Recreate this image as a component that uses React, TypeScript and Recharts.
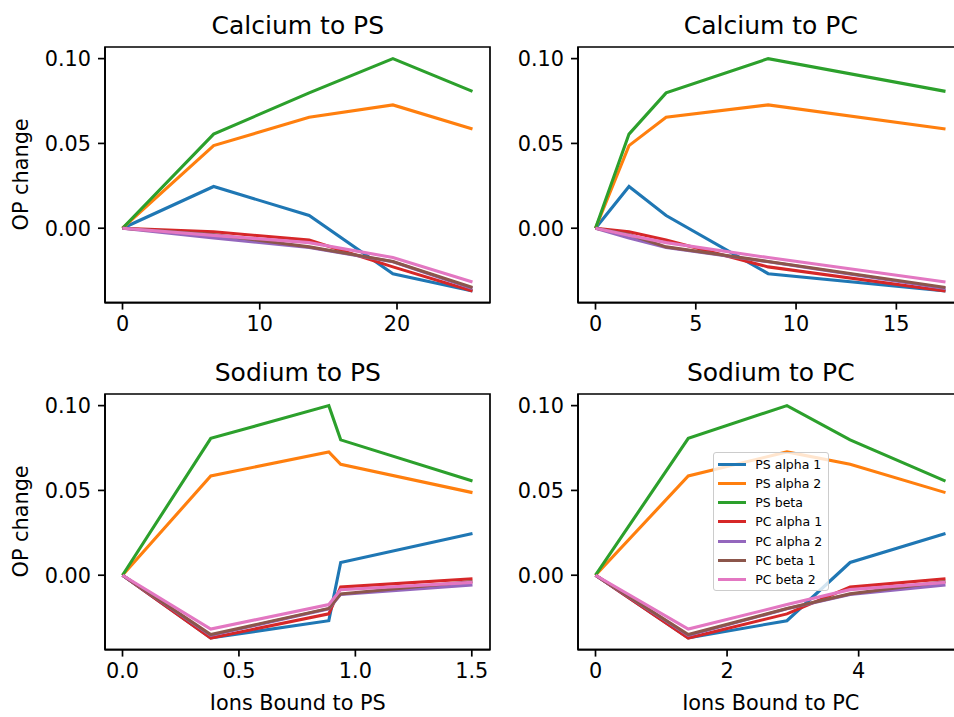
import React from 'react';
import { LineChart, Line, XAxis, YAxis, Legend, ReferenceArea } from 'recharts';

const seriesNames = ['PS alpha 1', 'PS alpha 2', 'PS beta', 'PC alpha 1', 'PC alpha 2', 'PC beta 1', 'PC beta 2'];
const seriesColors = ['#1f77b4', '#ff7f0e', '#2ca02c', '#d62728', '#9467bd', '#8c564b', '#e377c2'];

// ions bound (x) for each panel
const caToPS = [0, 6.64, 13.6, 19.7, 25.5];
const caToPC = [0, 1.67, 3.52, 8.61, 17.45];
const naToPS = [0, 0.379, 0.886, 0.937, 1.503];
const naToPC = [0, 1.41, 2.91, 3.87, 5.32];

// OP change, calcium runs
const caPsAlpha1 = [0, 0.0246, 0.0075, -0.0268, -0.0370];
const caPsAlpha2 = [0, 0.0487, 0.0654, 0.0727, 0.0585];
const caPsBeta = [0, 0.0555, 0.0798, 0.1000, 0.0807];
const caPcAlpha1 = [0, -0.0021, -0.0070, -0.0228, -0.0370];
const caPcAlpha2 = [0, -0.0057, -0.0113, -0.0198, -0.0355];
const caPcBeta1 = [0, -0.0037, -0.0110, -0.0196, -0.0350];
const caPcBeta2 = [0, -0.0042, -0.0085, -0.0173, -0.0317];

// OP change, sodium runs
const naPsAlpha1 = [0, -0.0370, -0.0268, 0.0075, 0.0246];
const naPsAlpha2 = [0, 0.0585, 0.0727, 0.0654, 0.0487];
const naPsBeta = [0, 0.0807, 0.1000, 0.0798, 0.0555];
const naPcAlpha1 = [0, -0.0370, -0.0228, -0.0070, -0.0021];
const naPcAlpha2 = [0, -0.0355, -0.0198, -0.0113, -0.0057];
const naPcBeta1 = [0, -0.0350, -0.0196, -0.0110, -0.0037];
const naPcBeta2 = [0, -0.0317, -0.0173, -0.0085, -0.0042];

const calciumSeries = [caPsAlpha1, caPsAlpha2, caPsBeta, caPcAlpha1, caPcAlpha2, caPcBeta1, caPcBeta2];
const sodiumSeries = [naPsAlpha1, naPsAlpha2, naPsBeta, naPcAlpha1, naPcAlpha2, naPcBeta1, naPcBeta2];

const yTicks = [0, 0.05, 0.1];

const FONT = '"DejaVu Sans", sans-serif';
const TICK_FS = 20.8;
const AX_W = 385;
const AX_H = 255.6;
const Y_AXIS_W = 70;
const X_AXIS_H = 40;
const SPINE = 1.7;

const pad = (lo: number, hi: number): [number, number] => {
  const r = hi - lo;
  return [lo - 0.05 * r, hi + 0.05 * r];
};

const allY = [...calciumSeries, ...sodiumSeries].flat();
const yDomain = pad(Math.min(...allY), Math.max(...allY));

const LegendBox = () => (
  <div style={{
    border: '1px solid #cccccc', borderRadius: 3, background: 'rgba(255,255,255,0.8)',
    padding: '1.5px 6px 1.5px 0', fontFamily: FONT, fontSize: 12.5, color: '#000',
  }}>
    {seriesNames.map((name, i) => (
      <div key={name} style={{ display: 'flex', alignItems: 'center', height: 19.17 }}>
        <div style={{ marginLeft: 4, width: 28.3, height: 3, background: seriesColors[i] }} />
        <span style={{ marginLeft: 9.3, whiteSpace: 'nowrap' }}>{name}</span>
      </div>
    ))}
  </div>
);

type PanelProps = {
  xs: number[];
  ys: number[][];
  xTicks: number[];
  xFmt: (v: number) => string;
  left: number;
  top: number;
  legend?: boolean;
};

const Panel = ({ xs, ys, xTicks, xFmt, left, top, legend }: PanelProps) => {
  const data = xs.map((x, i) => {
    const row: any = { x };
    ys.forEach((s, k) => { row['s' + k] = s[i]; });
    return row;
  });
  const xDomain = pad(Math.min(...xs), Math.max(...xs));
  const tickStyle = { fontSize: TICK_FS, fill: '#000', fontFamily: FONT };
  const line = { stroke: '#000', strokeWidth: SPINE };
  return (
    <div style={{ position: 'absolute', left: left - Y_AXIS_W, top: top - 5 }}>
      <LineChart width={Y_AXIS_W + AX_W + 5} height={5 + AX_H + X_AXIS_H} data={data}
        margin={{ top: 5, right: 5, left: 0, bottom: 0 }}>
        <XAxis dataKey="x" type="number" domain={xDomain} allowDataOverflow ticks={xTicks}
          tickFormatter={xFmt} height={X_AXIS_H} tick={tickStyle} tickSize={7} tickMargin={7}
          axisLine={line} tickLine={line} interval={0} />
        <YAxis type="number" domain={yDomain} allowDataOverflow ticks={yTicks}
          tickFormatter={(v: number) => v.toFixed(2)} width={Y_AXIS_W} tick={tickStyle}
          tickSize={7} tickMargin={7} axisLine={line} tickLine={line} interval={0} />
        {/* axes frame (top and right spines) */}
        <ReferenceArea x1={xDomain[0]} x2={xDomain[1]} y1={yDomain[0]} y2={yDomain[1]}
          fill="none" fillOpacity={0} stroke="#000" strokeWidth={SPINE} ifOverflow="visible" />
        {ys.map((_, k) => (
          <Line key={k} dataKey={'s' + k} name={seriesNames[k]} stroke={seriesColors[k]}
            strokeWidth={3.1} dot={false} isAnimationActive={false} type="linear" />
        ))}
        {legend && (
          <Legend layout="vertical" align="center" verticalAlign="middle"
            wrapperStyle={{ left: 204.4, top: 63.3, width: 'auto' }} content={() => <LegendBox />} />
        )}
      </LineChart>
    </div>
  );
};

const Title = ({ text, left, top }: { text: string; left: number; top: number }) => (
  <div style={{ position: 'absolute', left, width: AX_W, top: top - 12.5 - 21.2, textAlign: 'center',
    fontSize: 25, lineHeight: '25px', whiteSpace: 'nowrap' }}>{text}</div>
);

const XLabel = ({ text, left }: { text: string; left: number }) => (
  <div style={{ position: 'absolute', left, width: AX_W, top: 693.4, textAlign: 'center',
    fontSize: TICK_FS, lineHeight: TICK_FS + 'px', whiteSpace: 'nowrap' }}>{text}</div>
);

const YLabel = ({ top }: { top: number }) => (
  <div style={{ position: 'absolute', left: 21.5 - AX_H / 2, top: top + AX_H / 2 - TICK_FS / 2, width: AX_H,
    height: TICK_FS, textAlign: 'center', fontSize: TICK_FS, lineHeight: TICK_FS + 'px',
    transform: 'rotate(-90deg)', whiteSpace: 'nowrap' }}>OP change</div>
);

export default function App() {
  const L1 = 105.3, L2 = 578.3, T1 = 46.7, T2 = 394;
  return (
    <div style={{ position: 'absolute', left: 0, top: 0, width: 954, height: 717, overflow: 'hidden',
      background: '#fff', fontFamily: FONT, color: '#000' }}>
      <Title text="Calcium to PS" left={L1} top={T1} />
      <Title text="Calcium to PC" left={L2} top={T1} />
      <Title text="Sodium to PS" left={L1} top={T2} />
      <Title text="Sodium to PC" left={L2} top={T2} />
      <Panel xs={caToPS} ys={calciumSeries} xTicks={[0, 10, 20]} xFmt={(v) => String(v)} left={L1} top={T1} />
      <Panel xs={caToPC} ys={calciumSeries} xTicks={[0, 5, 10, 15]} xFmt={(v) => String(v)} left={L2} top={T1} />
      <Panel xs={naToPS} ys={sodiumSeries} xTicks={[0, 0.5, 1, 1.5]} xFmt={(v) => v.toFixed(1)} left={L1} top={T2} />
      <Panel xs={naToPC} ys={sodiumSeries} xTicks={[0, 2, 4]} xFmt={(v) => String(v)} left={L2} top={T2} legend />
      <YLabel top={T1} />
      <YLabel top={T2} />
      <XLabel text="Ions Bound to PS" left={L1} />
      <XLabel text="Ions Bound to PC" left={L2} />
    </div>
  );
}
